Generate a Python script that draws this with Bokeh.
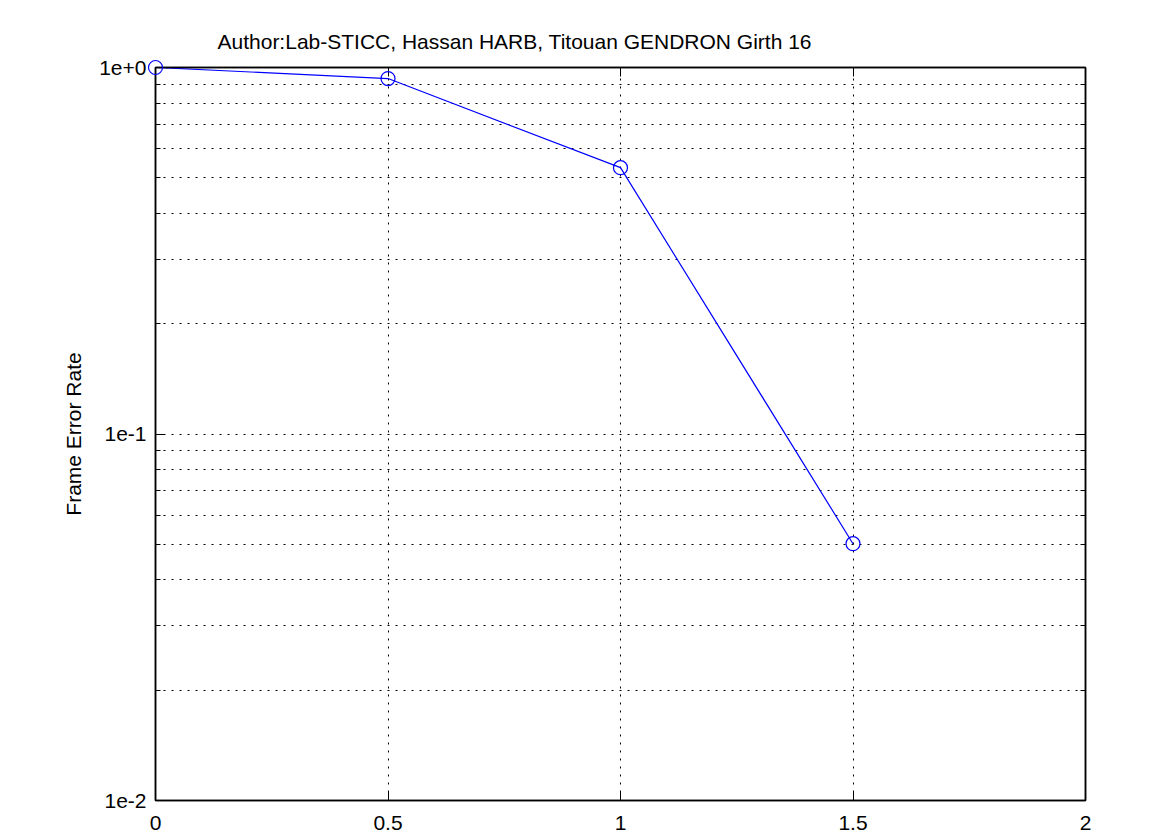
from bokeh.plotting import figure
from bokeh.models import FixedTicker, LinearAxis, LogAxis, Range1d
from bokeh.embed import file_html
from bokeh.resources import INLINE

# data
snr = [0.0, 0.5, 1.0, 1.5]
fer = [1.0, 0.933, 0.533, 0.0502]

x_ticks = [0, 0.5, 1, 1.5, 2]
y_ticks = [0.01, 0.1, 1.0]
y_tick_labels = ["1e-2", "1e-1", "1e+0"]
y_minor = [0.02, 0.03, 0.04, 0.05, 0.06, 0.07, 0.08, 0.09,
           0.2, 0.3, 0.4, 0.5, 0.6, 0.7, 0.8, 0.9]
title_text = "Author:Lab-STICC, Hassan HARB, Titouan GENDRON Girth 16"
y_label = "Frame Error Rate"

FONT = "Liberation Sans"
FS = "21px"

p = figure(width=1175, height=835, output_backend="svg", toolbar_location=None,
           y_axis_type="log", x_range=Range1d(0, 2), y_range=Range1d(0.01, 1),
           min_border_left=155, min_border_right=90, min_border_top=67, min_border_bottom=35)

p.title.text = title_text
p.title.align = "left"
p.title.offset = 62
p.title.text_font = FONT
p.title.text_font_size = FS
p.title.text_font_style = "normal"
p.title.text_color = "black"
p.title.standoff = 30

p.outline_line_color = "black"
p.outline_line_width = 1.5

# grid
p.xgrid.ticker = FixedTicker(ticks=x_ticks)
p.xgrid.grid_line_color = "black"
p.xgrid.grid_line_dash = "2 6"
p.xgrid.grid_line_width = 1
p.ygrid.ticker = FixedTicker(ticks=y_ticks, minor_ticks=y_minor)
p.ygrid.grid_line_color = "black"
p.ygrid.grid_line_dash = "2 6"
p.ygrid.minor_grid_line_color = "black"
p.ygrid.minor_grid_line_dash = "2 6"

def style_axis(ax, labels=True):
    ax.axis_line_color = "black"
    ax.axis_line_width = 1.5
    ax.major_tick_in = 9
    ax.major_tick_out = 0
    ax.minor_tick_in = 5
    ax.minor_tick_out = 0
    ax.major_tick_line_color = "black"
    ax.minor_tick_line_color = "black"
    ax.major_label_text_font = FONT
    ax.major_label_text_font_size = FS
    ax.major_label_text_color = "black"
    if not labels:
        ax.major_label_text_font_size = "0px"
        ax.major_label_text_alpha = 0

xa = p.xaxis[0]
xa.ticker = FixedTicker(ticks=x_ticks, minor_ticks=[])
style_axis(xa)
xa.major_label_standoff = 15

ya = p.yaxis[0]
ya.ticker = FixedTicker(ticks=y_ticks, minor_ticks=y_minor)
ya.major_label_overrides = {t: l for t, l in zip(y_ticks, y_tick_labels)}
style_axis(ya)
ya.major_label_standoff = 9
ya.axis_label = y_label
ya.axis_label_text_font = FONT
ya.axis_label_text_font_size = FS
ya.axis_label_text_font_style = "normal"
ya.axis_label_text_color = "black"
ya.axis_label_standoff = 11

top = LinearAxis(ticker=FixedTicker(ticks=x_ticks, minor_ticks=[]))
style_axis(top, labels=False)
p.add_layout(top, "above")

right = LogAxis(ticker=FixedTicker(ticks=y_ticks, minor_ticks=y_minor))
style_axis(right, labels=False)
p.add_layout(right, "right")

p.line(snr, fer, line_color="#0000ff", line_width=1.2)
p.scatter(snr, fer, marker="circle", size=14, fill_color=None,
          line_color="#0000ff", line_width=1.2, level="overlay")

open("out.html", "w").write(file_html(p, INLINE))
